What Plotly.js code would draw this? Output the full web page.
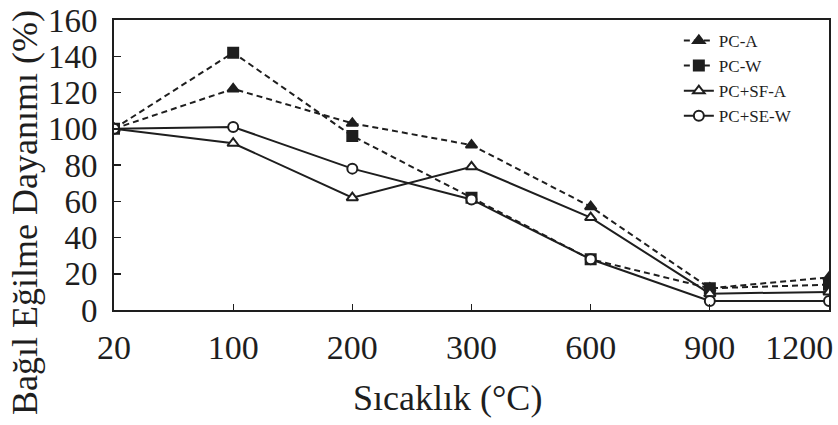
<!DOCTYPE html>
<html>
<head>
<meta charset="utf-8">
<script src="https://cdn.plot.ly/plotly-3.0.1.min.js"></script>
<style>html,body{margin:0;padding:0;background:#fff;}#chart{width:838px;height:425px;}</style>
</head>
<body>
<div id="chart"></div>
<script>
const categories = ["20", "100", "200", "300", "600", "900", "1200"];
const tickLabels = ["20", "100", "200", "300", "600", "900", "1200\u00a0\u00a0\u00a0\u00a0\u00a0\u00a0\u00a0"];
const seriesNames = ["PC-A", "PC-W", "PC+SF-A", "PC+SE-W"];
const pcA = [100, 122, 103, 91, 57, 12, 18];
const pcW = [100, 142, 96, 62, 28, 12, 14];
const pcSfA = [100, 92, 62, 79, 51, 9, 10];
const pcSeW = [100, 101, 78, 61, 28, 5, 5];
const yTicks = [0, 20, 40, 60, 80, 100, 120, 140, 160];
const xTitle = "Sıcaklık (°C)";
const yTitle = "Bağıl Eğilme Dayanımı (%)";

const FONT = "Liberation Serif";
const INK = "#1e1e1e";
const xIdx = categories.map((c, i) => i);

function trace(name, ys, dash, symbol, fill) {
  return {
    x: xIdx, y: ys, name: name, type: "scatter", mode: "lines+markers",
    line: {color: INK, width: 2, dash: dash},
    marker: {symbol: symbol, size: 10, color: fill, line: {color: INK, width: 2}}
  };
}

const data = [
  trace(seriesNames[0], pcA, "6px,4px", "triangle-up", INK),
  trace(seriesNames[1], pcW, "6px,4px", "square", INK),
  trace(seriesNames[2], pcSfA, "solid", "triangle-up", "#fff"),
  trace(seriesNames[3], pcSeW, "solid", "circle", "#fff")
];

const layout = {
  width: 838, height: 425,
  margin: {l: 114, r: 9, t: 20, b: 115, pad: 0},
  paper_bgcolor: "#fff", plot_bgcolor: "#fff",
  font: {family: FONT, color: INK, size: 33},
  showlegend: true,
  legend: {
    x: 0.79, y: 0.99, xanchor: "left", yanchor: "top",
    bgcolor: "rgba(0,0,0,0)", borderwidth: 0,
    font: {family: FONT, size: 17, color: INK},
    tracegroupgap: 0
  },
  xaxis: {
    range: [0, 6], tickmode: "array", tickvals: xIdx, ticktext: tickLabels,
    ticks: "inside", ticklen: 6, tickwidth: 1, tickcolor: INK,
    showline: true, linecolor: INK, linewidth: 2, mirror: true,
    showgrid: false, zeroline: false,
    ticklabeloverflow: "allow",
    tickfont: {family: FONT, size: 34, color: INK},
    ticklabelstandoff: 6
  },
  yaxis: {
    range: [0, 160], tickmode: "array", tickvals: yTicks,
    ticks: "inside", ticklen: 7, tickwidth: 1.5, tickcolor: INK,
    showline: true, linecolor: INK, linewidth: 2, mirror: true,
    showgrid: false, zeroline: false,
    tickfont: {family: FONT, size: 33, color: INK},
    ticklabelstandoff: 8
  },
  annotations: [{
    text: yTitle, xref: "paper", yref: "paper",
    x: (25 - 114) / 715, y: (310 - 213) / 290,
    xanchor: "center", yanchor: "middle", textangle: -90, showarrow: false,
    font: {family: FONT, size: 36, color: INK}
  }, {
    text: xTitle, xref: "paper", yref: "paper",
    x: (447 - 114) / 715, y: (310 - 398) / 290,
    xanchor: "center", yanchor: "middle", showarrow: false,
    font: {family: FONT, size: 36, color: INK}
  }]
};

Plotly.newPlot("chart", data, layout, {displayModeBar: false, staticPlot: true});
</script>
</body>
</html>
